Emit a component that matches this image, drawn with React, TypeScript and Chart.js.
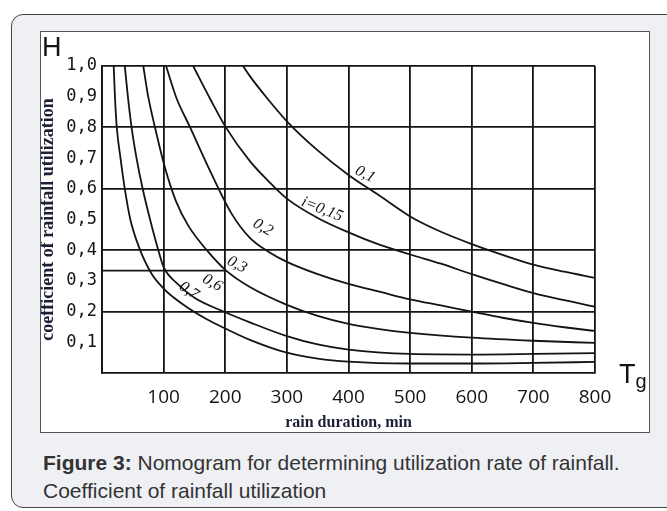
import React, { useEffect, useRef } from 'react';
import { Chart, registerables } from 'chart.js';

Chart.register(...registerables);

// ---- axis values ----
const X_MIN = 0;
const X_MAX = 800;
const X_STEP = 100;
const Y_MIN = 0;
const Y_MAX = 1;
const Y_STEP = 0.1;
const Y_GRID_VALUES = [0.2, 0.4, 0.6, 0.8, 1.0];

// extra horizontal reference line (H = 1/3 up to T = 200)
const REF_T = [0, 200];
const REF_H = [1 / 3, 1 / 3];

// ---- curves: rain duration T (min) and coefficient H ----
const T_010 = [229, 240, 270, 300, 350, 400, 450, 500, 550, 600, 650, 700, 750, 800];
const H_010 = [1.0, 0.967, 0.89, 0.82, 0.725, 0.645, 0.578, 0.51, 0.46, 0.42, 0.385, 0.353, 0.33, 0.31];

const T_015 = [148, 175, 201, 240, 270, 300, 350, 400, 450, 500, 550, 600, 650, 700, 750, 800];
const H_015 = [1.0, 0.895, 0.8, 0.69, 0.625, 0.568, 0.505, 0.458, 0.418, 0.386, 0.356, 0.322, 0.29, 0.26, 0.237, 0.216];

const T_020 = [104, 120, 143, 175, 210, 240, 270, 300, 350, 400, 450, 500, 550, 600, 650, 700, 750, 800];
const H_020 = [1.0, 0.9, 0.8, 0.66, 0.52, 0.44, 0.395, 0.362, 0.322, 0.29, 0.265, 0.24, 0.22, 0.2, 0.18, 0.163, 0.149, 0.137];

const T_030 = [67, 75, 86, 102, 120, 140, 170, 200, 240, 300, 350, 400, 450, 500, 600, 700, 800];
const H_030 = [1.0, 0.9, 0.8, 0.67, 0.56, 0.48, 0.4, 0.336, 0.28, 0.222, 0.186, 0.16, 0.143, 0.131, 0.115, 0.105, 0.098];

const T_060 = [37, 42, 48, 56, 66, 78, 90, 100, 120, 150, 200, 240, 300, 350, 400, 500, 600, 700, 800];
const H_060 = [1.0, 0.9, 0.8, 0.7, 0.6, 0.5, 0.41, 0.345, 0.295, 0.245, 0.198, 0.165, 0.12, 0.093, 0.076, 0.062, 0.06, 0.062, 0.065];

const T_070 = [19, 21, 24, 30, 37, 46, 60, 80, 100, 120, 141, 170, 200, 240, 300, 350, 400, 500, 600, 700, 800];
const H_070 = [1.0, 0.9, 0.8, 0.7, 0.6, 0.5, 0.41, 0.325, 0.275, 0.24, 0.21, 0.175, 0.145, 0.108, 0.066, 0.047, 0.037, 0.031, 0.031, 0.033, 0.036];

// ---- curve labels (anchored in data units) ----
const LABEL_TEXT = ['0,1', 'i=0,15', '0,2', '0,3', '0,6', '0,7'];
const LABEL_T = [427, 357, 261, 219, 179, 141];
const LABEL_H = [0.647, 0.533, 0.474, 0.353, 0.294, 0.268];
const LABEL_ANGLE = [27, 22, 31, 28, 30, 35];

const CURVES = [
  { t: T_010, h: H_010 },
  { t: T_015, h: H_015 },
  { t: T_020, h: H_020 },
  { t: T_030, h: H_030 },
  { t: T_060, h: H_060 },
  { t: T_070, h: H_070 },
];

const INK = '#141414';

const curveLabelPlugin = {
  id: 'curveLabels',
  afterDatasetsDraw(chart: any) {
    const { ctx, scales } = chart;
    const xs = scales.x;
    const ys = scales.y;
    ctx.save();
    ctx.font = 'italic 16px "Liberation Serif", "DejaVu Serif", serif';
    ctx.fillStyle = INK;
    ctx.textAlign = 'center';
    ctx.textBaseline = 'middle';
    LABEL_TEXT.forEach((txt, i) => {
      const px = xs.getPixelForValue(LABEL_T[i]);
      const py = ys.getPixelForValue(LABEL_H[i]);
      ctx.save();
      ctx.translate(px, py);
      ctx.rotate((LABEL_ANGLE[i] * Math.PI) / 180);
      ctx.fillText(txt, 0, 0);
      ctx.restore();
    });
    ctx.restore();
  },
};

function NomogramChart() {
  const ref = useRef<HTMLCanvasElement | null>(null);

  useEffect(() => {
    if (!ref.current) return;
    const datasets: any[] = CURVES.map((c) => ({
      data: c.t.map((t, i) => ({ x: t, y: c.h[i] })),
      borderColor: INK,
      borderWidth: 1.8,
      pointRadius: 0,
      fill: false,
      cubicInterpolationMode: 'monotone',
    }));
    datasets.push({
      data: REF_T.map((t, i) => ({ x: t, y: REF_H[i] })),
      borderColor: INK,
      borderWidth: 1.8,
      pointRadius: 0,
      fill: false,
      tension: 0,
    });

    const chart = new Chart(ref.current, {
      type: 'line',
      data: { datasets },
      plugins: [curveLabelPlugin],
      options: {
        animation: false,
        responsive: false,
        devicePixelRatio: 1,
        events: [],
        layout: { padding: { top: 34, right: 54, left: 0, bottom: 0 } },
        plugins: { legend: { display: false }, tooltip: { enabled: false } },
        scales: {
          x: {
            type: 'linear',
            min: X_MIN,
            max: X_MAX,
            ticks: {
              stepSize: X_STEP,
              autoSkip: false,
              maxRotation: 0,
              padding: 13,
              color: INK,
              font: { family: '"Open Sans", "DejaVu Sans", sans-serif', size: 19 },
              callback: (v: any) => (v === 0 ? '' : String(v)),
            },
            grid: { color: INK, lineWidth: 1.8, drawTicks: false },
            border: { display: true, color: INK, width: 1.8 },
            title: {
              display: true,
              text: 'rain duration, min',
              color: '#1b2036',
              font: { family: '"Liberation Serif", "DejaVu Serif", serif', weight: 'bold', size: 16 },
              padding: { top: 0, bottom: 0 },
            },
            afterFit: (s: any) => {
              s.height = 59;
            },
          },
          y: {
            type: 'linear',
            min: Y_MIN,
            max: Y_MAX,
            ticks: {
              stepSize: Y_STEP,
              autoSkip: false,
              padding: 5,
              color: INK,
              font: { family: '"DejaVu Sans Mono", monospace', size: 17 },
              callback: (v: any) => (Math.round(v * 10) === 0 ? '' : Number(v).toFixed(1).replace('.', ',')),
            },
            grid: {
              drawTicks: false,
              lineWidth: 1.8,
              color: (ctx: any) => {
                const v = ctx.tick ? ctx.tick.value : 0;
                return Y_GRID_VALUES.some((g) => Math.abs(g - v) < 1e-6) ? INK : 'rgba(0,0,0,0)';
              },
            },
            border: { display: true, color: INK, width: 1.8 },
            title: {
              display: true,
              text: 'coefficient of rainfall utilization',
              color: '#1b2036',
              font: { family: '"Liberation Serif", "DejaVu Serif", serif', weight: 'bold', size: 18, lineHeight: 0.8 },
              padding: { top: 0, bottom: 0 },
            },
            afterFit: (s: any) => {
              s.width = 61;
            },
          },
        },
      } as any,
    });
    return () => chart.destroy();
  }, []);

  return <canvas ref={ref} width={608} height={400} style={{ position: 'absolute', left: 0, top: 0, width: 608, height: 400 }} />;
}

export default function App() {
  return (
    <div style={{ position: 'absolute', left: 0, top: 0, width: 667, height: 511, overflow: 'hidden', background: '#ffffff' }}>
      <div
        style={{
          position: 'absolute',
          left: 11,
          top: 14,
          width: 680,
          height: 494,
          boxSizing: 'border-box',
          border: '1.5px solid #444',
          borderRadius: 12,
          background: '#eff0f3',
        }}
      />
      <div
        style={{
          position: 'absolute',
          left: 40,
          top: 31,
          width: 610,
          height: 402,
          boxSizing: 'border-box',
          border: '1px solid #555',
          background: '#ffffff',
        }}
      >
        <NomogramChart />
        <div style={{ position: 'absolute', left: 1, top: 2, fontFamily: '"Liberation Sans", Arial, sans-serif', fontSize: 27, lineHeight: '27px', color: INK }}>H</div>
        <div style={{ position: 'absolute', left: 578, top: 329, fontFamily: '"Liberation Sans", Arial, sans-serif', fontSize: 27, lineHeight: '27px', color: INK, whiteSpace: 'nowrap' }}>
          T<span style={{ fontSize: 20, position: 'relative', top: 5 }}>g</span>
        </div>
      </div>
      <div
        style={{
          position: 'absolute',
          left: 43,
          top: 449,
          fontFamily: '"Liberation Sans", Arial, sans-serif',
          fontSize: 21,
          lineHeight: '28px',
          color: '#333',
          whiteSpace: 'nowrap',
        }}
      >
        <b>Figure 3:</b> Nomogram for determining utilization rate of rainfall.
        <br />
        Coefficient of rainfall utilization
      </div>
    </div>
  );
}
